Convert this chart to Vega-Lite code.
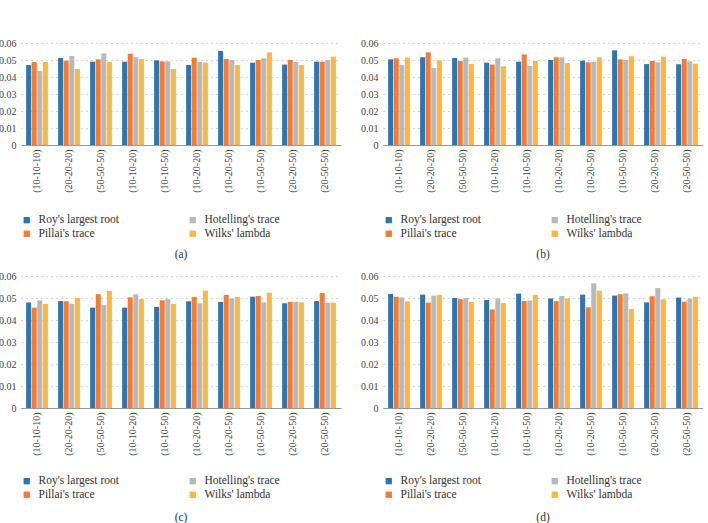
{
"$schema": "https://vega.github.io/schema/vega-lite/v6.json",
"padding": {"left": -2, "top": 38, "right": 0, "bottom": 0},
"background": "white",
"config": {
 "view": {"stroke": null},
 "font": "Liberation Serif, serif",
 "axis": {"labelFont": "Liberation Serif, serif", "labelFontSize": 10, "labelColor": "#444", "ticks": false},
 "legend": {"labelFont": "Liberation Serif, serif", "labelFontSize": 11, "labelColor": "#333"},
 "title": {"font": "Liberation Serif, serif", "fontSize": 11.5, "fontWeight": "normal", "color": "#333"},
 "concat": {"spacing": 19}
},
"datasets": {"d": [
{"p":"a","g":"(10-10-10)","t":"Roy's largest root","v":0.0471},{"p":"a","g":"(10-10-10)","t":"Pillai's trace","v":0.0488},{"p":"a","g":"(10-10-10)","t":"Hotelling's trace","v":0.0435},{"p":"a","g":"(10-10-10)","t":"Wilks' lambda","v":0.0488},
{"p":"a","g":"(20-20-20)","t":"Roy's largest root","v":0.0512},{"p":"a","g":"(20-20-20)","t":"Pillai's trace","v":0.0496},{"p":"a","g":"(20-20-20)","t":"Hotelling's trace","v":0.0524},{"p":"a","g":"(20-20-20)","t":"Wilks' lambda","v":0.0447},
{"p":"a","g":"(50-50-50)","t":"Roy's largest root","v":0.049},{"p":"a","g":"(50-50-50)","t":"Pillai's trace","v":0.0504},{"p":"a","g":"(50-50-50)","t":"Hotelling's trace","v":0.0539},{"p":"a","g":"(50-50-50)","t":"Wilks' lambda","v":0.049},
{"p":"a","g":"(10-10-20)","t":"Roy's largest root","v":0.049},{"p":"a","g":"(10-10-20)","t":"Pillai's trace","v":0.0537},{"p":"a","g":"(10-10-20)","t":"Hotelling's trace","v":0.0516},{"p":"a","g":"(10-10-20)","t":"Wilks' lambda","v":0.0506},
{"p":"a","g":"(10-10-50)","t":"Roy's largest root","v":0.0498},{"p":"a","g":"(10-10-50)","t":"Pillai's trace","v":0.0492},{"p":"a","g":"(10-10-50)","t":"Hotelling's trace","v":0.0492},{"p":"a","g":"(10-10-50)","t":"Wilks' lambda","v":0.0447},
{"p":"a","g":"(10-20-20)","t":"Roy's largest root","v":0.0471},{"p":"a","g":"(10-20-20)","t":"Pillai's trace","v":0.0514},{"p":"a","g":"(10-20-20)","t":"Hotelling's trace","v":0.0488},{"p":"a","g":"(10-20-20)","t":"Wilks' lambda","v":0.0484},
{"p":"a","g":"(10-20-50)","t":"Roy's largest root","v":0.0553},{"p":"a","g":"(10-20-50)","t":"Pillai's trace","v":0.0506},{"p":"a","g":"(10-20-50)","t":"Hotelling's trace","v":0.05},{"p":"a","g":"(10-20-50)","t":"Wilks' lambda","v":0.0471},
{"p":"a","g":"(10-50-50)","t":"Roy's largest root","v":0.0484},{"p":"a","g":"(10-50-50)","t":"Pillai's trace","v":0.05},{"p":"a","g":"(10-50-50)","t":"Hotelling's trace","v":0.051},{"p":"a","g":"(10-50-50)","t":"Wilks' lambda","v":0.0545},
{"p":"a","g":"(20-20-50)","t":"Roy's largest root","v":0.0473},{"p":"a","g":"(20-20-50)","t":"Pillai's trace","v":0.05},{"p":"a","g":"(20-20-50)","t":"Hotelling's trace","v":0.0488},{"p":"a","g":"(20-20-50)","t":"Wilks' lambda","v":0.0471},
{"p":"a","g":"(20-50-50)","t":"Roy's largest root","v":0.049},{"p":"a","g":"(20-50-50)","t":"Pillai's trace","v":0.049},{"p":"a","g":"(20-50-50)","t":"Hotelling's trace","v":0.05},{"p":"a","g":"(20-50-50)","t":"Wilks' lambda","v":0.052},
{"p":"b","g":"(10-10-10)","t":"Roy's largest root","v":0.0504},{"p":"b","g":"(10-10-10)","t":"Pillai's trace","v":0.051},{"p":"b","g":"(10-10-10)","t":"Hotelling's trace","v":0.0471},{"p":"b","g":"(10-10-10)","t":"Wilks' lambda","v":0.0514},
{"p":"b","g":"(20-20-20)","t":"Roy's largest root","v":0.0516},{"p":"b","g":"(20-20-20)","t":"Pillai's trace","v":0.0545},{"p":"b","g":"(20-20-20)","t":"Hotelling's trace","v":0.0453},{"p":"b","g":"(20-20-20)","t":"Wilks' lambda","v":0.0498},
{"p":"b","g":"(50-50-50)","t":"Roy's largest root","v":0.0512},{"p":"b","g":"(50-50-50)","t":"Pillai's trace","v":0.0494},{"p":"b","g":"(50-50-50)","t":"Hotelling's trace","v":0.0514},{"p":"b","g":"(50-50-50)","t":"Wilks' lambda","v":0.0476},
{"p":"b","g":"(10-10-20)","t":"Roy's largest root","v":0.0484},{"p":"b","g":"(10-10-20)","t":"Pillai's trace","v":0.0473},{"p":"b","g":"(10-10-20)","t":"Hotelling's trace","v":0.051},{"p":"b","g":"(10-10-20)","t":"Wilks' lambda","v":0.0463},
{"p":"b","g":"(10-10-50)","t":"Roy's largest root","v":0.049},{"p":"b","g":"(10-10-50)","t":"Pillai's trace","v":0.0533},{"p":"b","g":"(10-10-50)","t":"Hotelling's trace","v":0.0465},{"p":"b","g":"(10-10-50)","t":"Wilks' lambda","v":0.0494},
{"p":"b","g":"(10-20-20)","t":"Roy's largest root","v":0.05},{"p":"b","g":"(10-20-20)","t":"Pillai's trace","v":0.0516},{"p":"b","g":"(10-20-20)","t":"Hotelling's trace","v":0.0516},{"p":"b","g":"(10-20-20)","t":"Wilks' lambda","v":0.0482},
{"p":"b","g":"(10-20-50)","t":"Roy's largest root","v":0.0496},{"p":"b","g":"(10-20-50)","t":"Pillai's trace","v":0.0486},{"p":"b","g":"(10-20-50)","t":"Hotelling's trace","v":0.049},{"p":"b","g":"(10-20-50)","t":"Wilks' lambda","v":0.0516},
{"p":"b","g":"(10-50-50)","t":"Roy's largest root","v":0.0557},{"p":"b","g":"(10-50-50)","t":"Pillai's trace","v":0.0504},{"p":"b","g":"(10-50-50)","t":"Hotelling's trace","v":0.05},{"p":"b","g":"(10-50-50)","t":"Wilks' lambda","v":0.0522},
{"p":"b","g":"(20-20-50)","t":"Roy's largest root","v":0.0476},{"p":"b","g":"(20-20-50)","t":"Pillai's trace","v":0.0494},{"p":"b","g":"(20-20-50)","t":"Hotelling's trace","v":0.0486},{"p":"b","g":"(20-20-50)","t":"Wilks' lambda","v":0.052},
{"p":"b","g":"(20-50-50)","t":"Roy's largest root","v":0.0475},{"p":"b","g":"(20-50-50)","t":"Pillai's trace","v":0.0506},{"p":"b","g":"(20-50-50)","t":"Hotelling's trace","v":0.0492},{"p":"b","g":"(20-50-50)","t":"Wilks' lambda","v":0.0478},
{"p":"c","g":"(10-10-10)","t":"Roy's largest root","v":0.0479},{"p":"c","g":"(10-10-10)","t":"Pillai's trace","v":0.0456},{"p":"c","g":"(10-10-10)","t":"Hotelling's trace","v":0.0489},{"p":"c","g":"(10-10-10)","t":"Wilks' lambda","v":0.0473},
{"p":"c","g":"(20-20-20)","t":"Roy's largest root","v":0.0486},{"p":"c","g":"(20-20-20)","t":"Pillai's trace","v":0.0485},{"p":"c","g":"(20-20-20)","t":"Hotelling's trace","v":0.0473},{"p":"c","g":"(20-20-20)","t":"Wilks' lambda","v":0.05},
{"p":"c","g":"(50-50-50)","t":"Roy's largest root","v":0.0456},{"p":"c","g":"(50-50-50)","t":"Pillai's trace","v":0.0517},{"p":"c","g":"(50-50-50)","t":"Hotelling's trace","v":0.0468},{"p":"c","g":"(50-50-50)","t":"Wilks' lambda","v":0.0532},
{"p":"c","g":"(10-10-20)","t":"Roy's largest root","v":0.0456},{"p":"c","g":"(10-10-20)","t":"Pillai's trace","v":0.0503},{"p":"c","g":"(10-10-20)","t":"Hotelling's trace","v":0.0517},{"p":"c","g":"(10-10-20)","t":"Wilks' lambda","v":0.0495},
{"p":"c","g":"(10-10-50)","t":"Roy's largest root","v":0.0459},{"p":"c","g":"(10-10-50)","t":"Pillai's trace","v":0.0489},{"p":"c","g":"(10-10-50)","t":"Hotelling's trace","v":0.0495},{"p":"c","g":"(10-10-50)","t":"Wilks' lambda","v":0.0473},
{"p":"c","g":"(10-20-20)","t":"Roy's largest root","v":0.0485},{"p":"c","g":"(10-20-20)","t":"Pillai's trace","v":0.0505},{"p":"c","g":"(10-20-20)","t":"Hotelling's trace","v":0.0476},{"p":"c","g":"(10-20-20)","t":"Wilks' lambda","v":0.0533},
{"p":"c","g":"(10-20-50)","t":"Roy's largest root","v":0.0482},{"p":"c","g":"(10-20-50)","t":"Pillai's trace","v":0.0514},{"p":"c","g":"(10-20-50)","t":"Hotelling's trace","v":0.0498},{"p":"c","g":"(10-20-50)","t":"Wilks' lambda","v":0.0505},
{"p":"c","g":"(10-50-50)","t":"Roy's largest root","v":0.0506},{"p":"c","g":"(10-50-50)","t":"Pillai's trace","v":0.0509},{"p":"c","g":"(10-50-50)","t":"Hotelling's trace","v":0.048},{"p":"c","g":"(10-50-50)","t":"Wilks' lambda","v":0.0524},
{"p":"c","g":"(20-20-50)","t":"Roy's largest root","v":0.0476},{"p":"c","g":"(20-20-50)","t":"Pillai's trace","v":0.0482},{"p":"c","g":"(20-20-50)","t":"Hotelling's trace","v":0.0483},{"p":"c","g":"(20-20-50)","t":"Wilks' lambda","v":0.048},
{"p":"c","g":"(20-50-50)","t":"Roy's largest root","v":0.0486},{"p":"c","g":"(20-50-50)","t":"Pillai's trace","v":0.0523},{"p":"c","g":"(20-50-50)","t":"Hotelling's trace","v":0.0479},{"p":"c","g":"(20-50-50)","t":"Wilks' lambda","v":0.0479},
{"p":"d","g":"(10-10-10)","t":"Roy's largest root","v":0.0518},{"p":"d","g":"(10-10-10)","t":"Pillai's trace","v":0.0506},{"p":"d","g":"(10-10-10)","t":"Hotelling's trace","v":0.0503},{"p":"d","g":"(10-10-10)","t":"Wilks' lambda","v":0.0485},
{"p":"d","g":"(20-20-20)","t":"Roy's largest root","v":0.0515},{"p":"d","g":"(20-20-20)","t":"Pillai's trace","v":0.0479},{"p":"d","g":"(20-20-20)","t":"Hotelling's trace","v":0.0511},{"p":"d","g":"(20-20-20)","t":"Wilks' lambda","v":0.0514},
{"p":"d","g":"(50-50-50)","t":"Roy's largest root","v":0.05},{"p":"d","g":"(50-50-50)","t":"Pillai's trace","v":0.0495},{"p":"d","g":"(50-50-50)","t":"Hotelling's trace","v":0.05},{"p":"d","g":"(50-50-50)","t":"Wilks' lambda","v":0.0482},
{"p":"d","g":"(10-10-20)","t":"Roy's largest root","v":0.0491},{"p":"d","g":"(10-10-20)","t":"Pillai's trace","v":0.0448},{"p":"d","g":"(10-10-20)","t":"Hotelling's trace","v":0.0498},{"p":"d","g":"(10-10-20)","t":"Wilks' lambda","v":0.0477},
{"p":"d","g":"(10-10-50)","t":"Roy's largest root","v":0.052},{"p":"d","g":"(10-10-50)","t":"Pillai's trace","v":0.0486},{"p":"d","g":"(10-10-50)","t":"Hotelling's trace","v":0.0489},{"p":"d","g":"(10-10-50)","t":"Wilks' lambda","v":0.0514},
{"p":"d","g":"(10-20-20)","t":"Roy's largest root","v":0.0498},{"p":"d","g":"(10-20-20)","t":"Pillai's trace","v":0.0486},{"p":"d","g":"(10-20-20)","t":"Hotelling's trace","v":0.0509},{"p":"d","g":"(10-20-20)","t":"Wilks' lambda","v":0.0498},
{"p":"d","g":"(10-20-50)","t":"Roy's largest root","v":0.0515},{"p":"d","g":"(10-20-50)","t":"Pillai's trace","v":0.0458},{"p":"d","g":"(10-20-50)","t":"Hotelling's trace","v":0.0567},{"p":"d","g":"(10-20-50)","t":"Wilks' lambda","v":0.0533},
{"p":"d","g":"(10-50-50)","t":"Roy's largest root","v":0.0511},{"p":"d","g":"(10-50-50)","t":"Pillai's trace","v":0.0517},{"p":"d","g":"(10-50-50)","t":"Hotelling's trace","v":0.0521},{"p":"d","g":"(10-50-50)","t":"Wilks' lambda","v":0.045},
{"p":"d","g":"(20-20-50)","t":"Roy's largest root","v":0.048},{"p":"d","g":"(20-20-50)","t":"Pillai's trace","v":0.0508},{"p":"d","g":"(20-20-50)","t":"Hotelling's trace","v":0.0545},{"p":"d","g":"(20-20-50)","t":"Wilks' lambda","v":0.0494},
{"p":"d","g":"(20-50-50)","t":"Roy's largest root","v":0.0502},{"p":"d","g":"(20-50-50)","t":"Pillai's trace","v":0.0483},{"p":"d","g":"(20-50-50)","t":"Hotelling's trace","v":0.0497},{"p":"d","g":"(20-50-50)","t":"Wilks' lambda","v":0.0505}
]},
"spacing": 10,
"resolve": {"legend": {"color": "independent"}},
"vconcat": [
 {"hconcat": [
  {"data": {"name": "d"}, "transform": [{"filter": "datum.p == 'a'"}], "width": 320, "height": 102,
   "title": {"text": "(a)", "orient": "bottom", "anchor": "middle", "offset": 9},
   "mark": {"type": "bar"},
   "encoding": {
    "x": {"field": "g", "type": "nominal", "sort": null, "title": null, "scale": {"paddingInner": 0.32, "paddingOuter": 0.16},
      "axis": {"labelAngle": -90, "domainColor": "#999", "labelPadding": 4, "grid": false}},
    "xOffset": {"field": "t", "type": "nominal", "sort": ["Roy's largest root", "Pillai's trace", "Hotelling's trace", "Wilks' lambda"], "scale": {"paddingInner": 0.1}},
    "y": {"field": "v", "type": "quantitative", "title": null, "scale": {"domain": [0, 0.06], "nice": false},
      "axis": {"values": [0, 0.01, 0.02, 0.03, 0.04, 0.05, 0.06], "labelExpr": "datum.value == 0 ? '0' : format(datum.value, '.2f')", "domain": false, "gridDash": [1, 4], "gridColor": "#aaa", "labelPadding": 5}},
    "color": {"field": "t", "type": "nominal", "scale": {"domain": ["Roy's largest root", "Hotelling's trace", "Pillai's trace", "Wilks' lambda"], "range": ["#2e75b6", "#b8b8b8", "#f47b33", "#fdb73e"]},
      "legend": {"orient": "bottom", "title": null, "columns": 2, "symbolType": "square", "symbolSize": 40, "columnPadding": 68, "rowPadding": 1, "offset": 21, "labelFontSize": 11.5, "labelOffset": 6}}
   }},
  {"data": {"name": "d"}, "transform": [{"filter": "datum.p == 'b'"}], "width": 320, "height": 102,
   "title": {"text": "(b)", "orient": "bottom", "anchor": "middle", "offset": 9},
   "mark": {"type": "bar"},
   "encoding": {
    "x": {"field": "g", "type": "nominal", "sort": null, "title": null, "scale": {"paddingInner": 0.32, "paddingOuter": 0.16},
      "axis": {"labelAngle": -90, "domainColor": "#999", "labelPadding": 4, "grid": false}},
    "xOffset": {"field": "t", "type": "nominal", "sort": ["Roy's largest root", "Pillai's trace", "Hotelling's trace", "Wilks' lambda"], "scale": {"paddingInner": 0.1}},
    "y": {"field": "v", "type": "quantitative", "title": null, "scale": {"domain": [0, 0.06], "nice": false},
      "axis": {"values": [0, 0.01, 0.02, 0.03, 0.04, 0.05, 0.06], "labelExpr": "datum.value == 0 ? '0' : format(datum.value, '.2f')", "domain": false, "gridDash": [1, 4], "gridColor": "#aaa", "labelPadding": 5}},
    "color": {"field": "t", "type": "nominal", "scale": {"domain": ["Roy's largest root", "Hotelling's trace", "Pillai's trace", "Wilks' lambda"], "range": ["#2e75b6", "#b8b8b8", "#f47b33", "#fdb73e"]},
      "legend": {"orient": "bottom", "title": null, "columns": 2, "symbolType": "square", "symbolSize": 40, "columnPadding": 68, "rowPadding": 1, "offset": 21, "labelFontSize": 11.5, "labelOffset": 6}}
   }}
 ], "resolve": {"legend": {"color": "independent"}}},
 {"hconcat": [
  {"data": {"name": "d"}, "transform": [{"filter": "datum.p == 'c'"}], "width": 320, "height": 132,
   "title": {"text": "(c)", "orient": "bottom", "anchor": "middle", "offset": 11},
   "mark": {"type": "bar"},
   "encoding": {
    "x": {"field": "g", "type": "nominal", "sort": null, "title": null, "scale": {"paddingInner": 0.32, "paddingOuter": 0.16},
      "axis": {"labelAngle": -90, "domainColor": "#999", "labelPadding": 4, "grid": false}},
    "xOffset": {"field": "t", "type": "nominal", "sort": ["Roy's largest root", "Pillai's trace", "Hotelling's trace", "Wilks' lambda"], "scale": {"paddingInner": 0.1}},
    "y": {"field": "v", "type": "quantitative", "title": null, "scale": {"domain": [0, 0.06], "nice": false},
      "axis": {"values": [0, 0.01, 0.02, 0.03, 0.04, 0.05, 0.06], "labelExpr": "datum.value == 0 ? '0' : format(datum.value, '.2f')", "domain": false, "gridDash": [1, 4], "gridColor": "#aaa", "labelPadding": 5}},
    "color": {"field": "t", "type": "nominal", "scale": {"domain": ["Roy's largest root", "Hotelling's trace", "Pillai's trace", "Wilks' lambda"], "range": ["#2e75b6", "#b8b8b8", "#f47b33", "#fdb73e"]},
      "legend": {"orient": "bottom", "title": null, "columns": 2, "symbolType": "square", "symbolSize": 40, "columnPadding": 68, "rowPadding": 1, "offset": 19, "labelFontSize": 11.5, "labelOffset": 6}}
   }},
  {"data": {"name": "d"}, "transform": [{"filter": "datum.p == 'd'"}], "width": 320, "height": 132,
   "title": {"text": "(d)", "orient": "bottom", "anchor": "middle", "offset": 11},
   "mark": {"type": "bar"},
   "encoding": {
    "x": {"field": "g", "type": "nominal", "sort": null, "title": null, "scale": {"paddingInner": 0.32, "paddingOuter": 0.16},
      "axis": {"labelAngle": -90, "domainColor": "#999", "labelPadding": 4, "grid": false}},
    "xOffset": {"field": "t", "type": "nominal", "sort": ["Roy's largest root", "Pillai's trace", "Hotelling's trace", "Wilks' lambda"], "scale": {"paddingInner": 0.1}},
    "y": {"field": "v", "type": "quantitative", "title": null, "scale": {"domain": [0, 0.06], "nice": false},
      "axis": {"values": [0, 0.01, 0.02, 0.03, 0.04, 0.05, 0.06], "labelExpr": "datum.value == 0 ? '0' : format(datum.value, '.2f')", "domain": false, "gridDash": [1, 4], "gridColor": "#aaa", "labelPadding": 5}},
    "color": {"field": "t", "type": "nominal", "scale": {"domain": ["Roy's largest root", "Hotelling's trace", "Pillai's trace", "Wilks' lambda"], "range": ["#2e75b6", "#b8b8b8", "#f47b33", "#fdb73e"]},
      "legend": {"orient": "bottom", "title": null, "columns": 2, "symbolType": "square", "symbolSize": 40, "columnPadding": 68, "rowPadding": 1, "offset": 19, "labelFontSize": 11.5, "labelOffset": 6}}
   }}
 ], "resolve": {"legend": {"color": "independent"}}}
]
}
